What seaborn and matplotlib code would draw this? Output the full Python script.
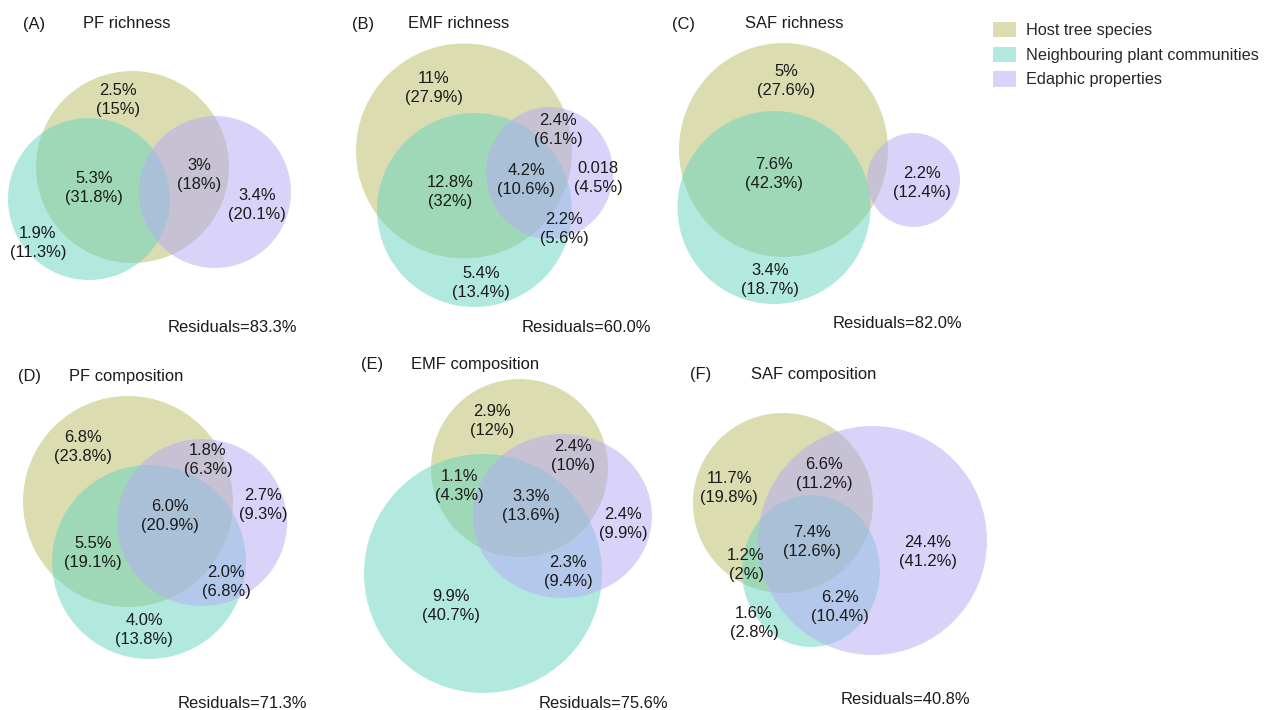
import matplotlib
matplotlib.use("Agg")
import matplotlib.pyplot as plt
from matplotlib.patches import Ellipse, Patch
import seaborn as sns

# ---------------------------------------------------------------- data
panel_letters = ["(A)", "(B)", "(C)", "(D)", "(E)", "(F)"]
panel_titles = ["PF richness", "EMF richness", "SAF richness",
                "PF composition", "EMF composition", "SAF composition"]
residuals = [83.3, 60.0, 82.0, 71.3, 75.6, 40.8]

set_names = ["Host tree species", "Neighbouring plant communities",
             "Edaphic properties"]

# variance fractions per region: absolute value and share of explained
pf_rich_abs = ["2.5%", "5.3%", "3%", "3.4%", "1.9%"]
pf_rich_rel = ["15%", "31.8%", "18%", "20.1%", "11.3%"]

emf_rich_abs = ["11%", "2.4%", "4.2%", "0.018", "12.8%", "2.2%", "5.4%"]
emf_rich_rel = ["27.9%", "6.1%", "10.6%", "4.5%", "32%", "5.6%", "13.4%"]

saf_rich_abs = ["5%", "7.6%", "2.2%", "3.4%"]
saf_rich_rel = ["27.6%", "42.3%", "12.4%", "18.7%"]

pf_comp_abs = ["6.8%", "1.8%", "2.7%", "6.0%", "5.5%", "2.0%", "4.0%"]
pf_comp_rel = ["23.8%", "6.3%", "9.3%", "20.9%", "19.1%", "6.8%", "13.8%"]

emf_comp_abs = ["2.9%", "2.4%", "1.1%", "3.3%", "2.4%", "2.3%", "9.9%"]
emf_comp_rel = ["12%", "10%", "4.3%", "13.6%", "9.9%", "9.4%", "40.7%"]

saf_comp_abs = ["11.7%", "6.6%", "7.4%", "24.4%", "1.2%", "6.2%", "1.6%"]
saf_comp_rel = ["19.8%", "11.2%", "12.6%", "41.2%", "2%", "10.4%", "2.8%"]

region_abs = [pf_rich_abs, emf_rich_abs, saf_rich_abs,
              pf_comp_abs, emf_comp_abs, saf_comp_abs]
region_rel = [pf_rich_rel, emf_rich_rel, saf_rich_rel,
              pf_comp_rel, emf_comp_rel, saf_comp_rel]

# ---------------------------------------------------------------- layout
# canvas units = pixels, y growing downwards
W, H = 1265, 710

# ellipses (cx, cy, width, height) for host, neighbours, edaphic
shapes = [
    [(132.5, 167, 193, 192), (89, 199, 162, 162), (215, 192, 152, 152)],
    [(464, 151, 216, 215), (474.5, 210, 195, 194), (549.5, 173, 127, 132)],
    [(783.5, 150, 209, 214), (774, 207.5, 193, 193), (913.5, 180, 93, 94)],
    [(128, 501.5, 210, 211), (149, 562, 194, 194), (202, 522.5, 170, 167)],
    [(519.5, 468, 177, 178), (483, 573.5, 238, 239), (562.5, 516, 179, 164)],
    [(783, 503, 180, 180), (811, 571, 138, 152), (872.5, 540.5, 229, 229)],
]

# centre of each region label
label_xy = [
    [(118, 100), (94, 188), (199, 175), (257, 205), (38, 243)],
    [(434, 88), (558, 130), (526, 180), (598, 178), (450, 192), (564, 229), (481, 283)],
    [(786, 81), (774, 174), (922, 183), (770, 280)],
    [(83, 447), (208, 460), (263, 505), (170, 516), (93, 553), (226, 582), (144, 630)],
    [(492, 421), (573, 456), (459, 486), (531, 506), (623, 524), (568, 572), (451, 606)],
    [(729, 488), (824, 474), (812, 542), (928, 552), (746, 565), (840, 607), (754, 623)],
]

# letter left edge, title left edge, header y
headers = [(23, 83, 24), (352, 408, 24), (672, 745, 24),
           (18, 69, 376), (361, 411, 365), (690, 751, 375)]
# residual text left edge and y
resid_xy = [(168, 328), (522, 328), (833, 323),
            (178, 703), (539, 703), (841, 700)]

colors = ["#b9bb61", "#65d5bf", "#b5a9f7"]
alpha = 0.5

# ---------------------------------------------------------------- style
sns.set_theme(style="white")
plt.rcParams["font.family"] = ["Liberation Sans", "DejaVu Sans"]
fs = 11.9
txt_color = "#1a1a1a"

fig = plt.figure(figsize=(W / 100, H / 100), dpi=100)
ax = fig.add_axes([0, 0, 1, 1])
ax.set_xlim(0, W)
ax.set_ylim(H, 0)
ax.set_aspect("equal")
ax.axis("off")

for p in range(6):
    for (cx, cy, w, h), c in zip(shapes[p], colors):
        ax.add_patch(Ellipse((cx, cy), w, h, facecolor=c, alpha=alpha,
                             edgecolor="none", lw=0))
    for (x, y), a, r in zip(label_xy[p], region_abs[p], region_rel[p]):
        ax.text(x, y, f"{a}\n({r})", ha="center", va="center", fontsize=fs,
                color=txt_color, linespacing=1.32)
    lx, tx, hy = headers[p]
    ax.text(lx, hy, panel_letters[p], ha="left", va="center", fontsize=fs,
            color=txt_color)
    ax.text(tx, hy, panel_titles[p], ha="left", va="center", fontsize=fs,
            color=txt_color)
    rx, ry = resid_xy[p]
    ax.text(rx, ry, f"Residuals={residuals[p]:.1f}%", ha="left", va="center",
            fontsize=fs, color=txt_color)

handles = [Patch(facecolor=c, alpha=alpha, edgecolor="none") for c in colors]
fig.legend(handles, set_names, loc="upper left",
           bbox_to_anchor=(993 / W, 1 - 22 / H), frameon=False,
           fontsize=11.7, handlelength=1.4, handleheight=1.07,
           handletextpad=0.6, labelspacing=0.52, borderpad=0,
           borderaxespad=0)

fig.savefig("out.png", dpi=100, facecolor="white")
